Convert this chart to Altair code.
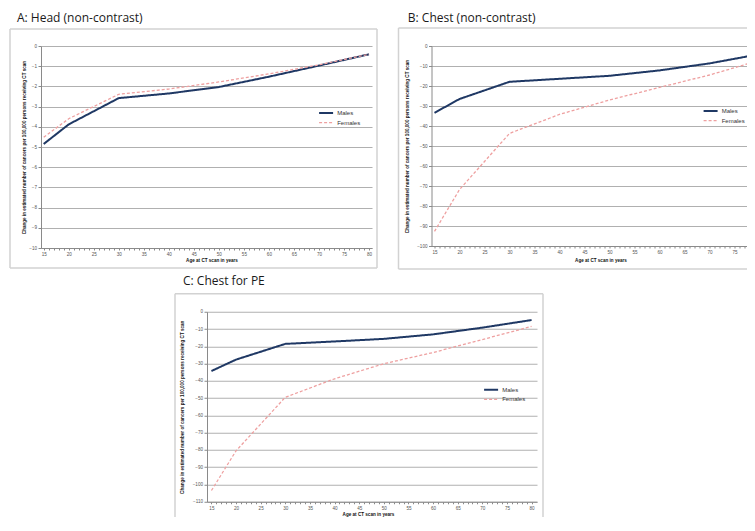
import altair as alt
import pandas as pd

# ---------------- data ----------------
ages = [15, 20, 30, 40, 50, 60, 70, 80]
sexes = ["Males", "Females"]

head_males = [-4.85, -3.88, -2.58, -2.35, -2.03, -1.52, -0.97, -0.41]
head_females = [-4.52, -3.60, -2.39, -2.13, -1.78, -1.38, -0.93, -0.41]

chest_males = [-33.4, -26.5, -17.9, -16.4, -14.9, -12.2, -8.7, -4.1]
chest_females = [-92.7, -71.8, -43.7, -34.2, -27.0, -20.7, -14.5, -7.2]

pe_males = [-34.3, -27.7, -18.6, -17.2, -15.7, -13.1, -9.2, -4.8]
pe_females = [-103.5, -80.5, -49.5, -38.8, -30.1, -23.6, -16.1, -8.5]

x_tick_years = list(range(15, 81))
x_tick_years_cut = list(range(15, 80))   # panel B is cut at the right edge
head_y_ticks = list(range(-10, 1, 1))
chest_y_ticks = list(range(-100, 1, 10))
pe_y_ticks = list(range(-110, 1, 10))

panel_titles = ["A: Head (non-contrast)", "B: Chest (non-contrast)", "C: Chest for PE"]
y_title = "Change in estimated number of cancers per 100,000 persons receiving CT scan"
x_title = "Age at CT scan in years"

MALE_COLOR = "#1F3864"
FEMALE_COLOR = "#EEA0A0"
GRID = "#b0b0b0"
AXIS = "#8a8a8a"
FRAME = "#d2d2d2"
TICK_FONT = "Liberation Sans"


def one_row():
    return alt.Chart(pd.DataFrame({"f": [0]}))


def frame_layers(x1, x2, y1, y2, sides):
    layers = []
    style = dict(stroke=FRAME, strokeWidth=1.5)
    if "top" in sides:
        layers.append(one_row().mark_rule(**style).encode(
            x=alt.value(x1), x2=alt.value(x2), y=alt.value(y1)))
    if "bottom" in sides:
        layers.append(one_row().mark_rule(**style).encode(
            x=alt.value(x1), x2=alt.value(x2), y=alt.value(y2)))
    if "left" in sides:
        layers.append(one_row().mark_rule(**style).encode(
            x=alt.value(x1), y=alt.value(y1), y2=alt.value(y2)))
    if "right" in sides:
        layers.append(one_row().mark_rule(**style).encode(
            x=alt.value(x2), y=alt.value(y1), y2=alt.value(y2)))
    return layers


def panel(title, males, females, y_domain, y_ticks, x_domain, x_ticks, w, h,
          frame, sides, title_pos, legend_pos, ytitle_x, xtitle_x, xtitle_y):
    df = pd.DataFrame({
        "age": ages * 2,
        "value": males + females,
        "sex": ["Males"] * len(ages) + ["Females"] * len(ages),
    })
    layers = frame_layers(*frame, sides)
    title_layer = alt.Chart(pd.DataFrame({"t": [title]})).mark_text(
        align="left", baseline="alphabetic", font="Open Sans",
        fontSize=12, color="#1a1a1a",
    ).encode(x=alt.value(title_pos[0]), y=alt.value(title_pos[1]), text="t:N")
    layers.append(title_layer)

    legend = alt.Legend(
        orient="none", legendX=legend_pos[0], legendY=legend_pos[1], title=None,
        symbolType="M-2,0H2", symbolSize=49, symbolStrokeWidth=1.8,
        labelFontSize=6, labelFont=TICK_FONT, labelColor="#333333",
        labelOffset=6.6, padding=0, rowPadding=0.6, offset=0,
    )
    lines = alt.Chart(df).mark_line(clip=True).encode(
        x=alt.X(
            "age:Q",
            scale=alt.Scale(domain=x_domain, nice=False, zero=False),
            axis=alt.Axis(
                values=x_ticks,
                labelExpr="datum.value % 5 === 0 ? datum.label : ''",
                labelOverlap=False, labelFlush=False, grid=False,
                tickSize=2, tickColor=AXIS, domainColor=AXIS, domainWidth=1,
                labelFont=TICK_FONT, labelFontSize=4.6, labelColor="#555555",
                labelBaseline="middle", labelPadding=4.3,
                title=x_title, titleFont=TICK_FONT, titleFontSize=4.6,
                titleFontWeight="bold", titleColor="#111111",
                titleX=xtitle_x, titleY=xtitle_y, titleBaseline="middle",
                titleAlign="center",
            ),
        ),
        y=alt.Y(
            "value:Q",
            scale=alt.Scale(domain=y_domain, nice=False, zero=False),
            axis=alt.Axis(
                values=y_ticks, format="d", grid=True, gridColor=GRID,
                gridWidth=1.2, tickSize=3, tickColor=AXIS, domainColor=AXIS,
                labelFont=TICK_FONT, labelFontSize=4.6, labelColor="#555555",
                labelPadding=1.5,
                title=y_title, titleFont=TICK_FONT, titleFontSize=4.6,
                titleFontWeight="bold", titleColor="#111111",
                titleX=ytitle_x, titleY=h / 2, titleAngle=-90,
                titleBaseline="middle", titleAlign="center",
            ),
        ),
        color=alt.Color(
            "sex:N", sort=sexes,
            scale=alt.Scale(domain=sexes, range=[MALE_COLOR, FEMALE_COLOR]),
            legend=legend,
        ),
        strokeDash=alt.StrokeDash(
            "sex:N", sort=sexes,
            scale=alt.Scale(domain=sexes, range=[[1, 0], [3, 2]]),
            legend=legend,
        ),
        strokeWidth=alt.StrokeWidth(
            "sex:N", sort=sexes,
            scale=alt.Scale(domain=sexes, range=[2.0, 1.3]),
            legend=None,
        ),
    )
    layers.append(lines)
    return alt.layer(*layers).properties(width=w, height=h)


def independent(c):
    return c.resolve_scale(
        x="independent", y="independent", color="independent",
        strokeDash="independent", strokeWidth="independent",
    ).resolve_legend(
        color="independent", strokeDash="independent", strokeWidth="independent",
    )


panel_a = panel(panel_titles[0], head_males, head_females, [-10, 0], head_y_ticks,
                [14.46, 80.6], x_tick_years, 331, 202,
                (-31, 336, -17, 222), ("top", "bottom", "left", "right"),
                (-24, -23.7), (280.6, 62.6), -16.7, 170.5, 12.3)
panel_b = panel(panel_titles[1], chest_males, chest_females, [-100, 0], chest_y_ticks,
                [14.4, 80.6], x_tick_years_cut, 331, 200,
                (-33, 345, -18, 223), ("top", "bottom", "left"),
                (-23.7, -23.7), (274.6, 60.6), -23.7, 169, 14)
panel_c = panel(panel_titles[2], pe_males, pe_females, [-110, 0], pe_y_ticks,
                [14.1, 81.1], x_tick_years, 330, 190,
                (-32, 336, -18, 230), ("top", "left", "right"),
                (-24, -26.5), (279.6, 73.6), -24.3, 161, 13)

# invisible spacer that pushes panel C to the right
spacer = one_row().mark_rule(opacity=0, strokeWidth=1).encode(
    x=alt.value(0), x2=alt.value(112.25), y=alt.value(0)
).properties(width=112.25, height=1)

row1 = independent(alt.hconcat(panel_a, panel_b, spacing=19.5))
row2 = independent(alt.hconcat(spacer, panel_c, spacing=20))

chart = independent(alt.vconcat(row1, row2, spacing=4.75)).properties(
    autosize=alt.AutoSizeParams(type="none"),
    padding={"left": 33, "top": 38, "right": 706, "bottom": 471},
    background="#ffffff",
).configure_view(strokeWidth=0)

chart.save("out.html", embed_options={"renderer": "svg", "actions": False})
